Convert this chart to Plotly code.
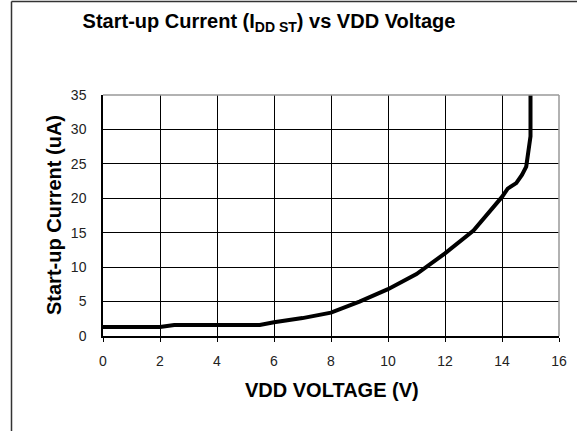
import plotly.graph_objects as go

vdd = [0, 1, 2, 2.5, 3, 4, 5, 5.5, 6, 7, 8, 9, 10, 11, 12, 13, 14, 14.2, 14.5, 14.7, 14.85, 14.95, 15.0, 15.0]
current = [1.3, 1.3, 1.3, 1.6, 1.6, 1.6, 1.6, 1.6, 2.0, 2.6, 3.4, 5.0, 6.8, 9.0, 12.0, 15.3, 20.2, 21.4, 22.2, 23.4, 24.6, 27.0, 29.0, 35.0]
x_ticks = [0, 2, 4, 6, 8, 10, 12, 14, 16]
y_ticks = [0, 5, 10, 15, 20, 25, 30, 35]

W, H = 577, 431
L, R, T, B = 103, 18, 95, 95
pw, ph = W - L - R, H - T - B

fig = go.Figure()
fig.add_trace(go.Scatter(x=vdd, y=current, mode="lines",
                         line=dict(color="black", width=4), showlegend=False,
                         hoverinfo="skip"))

font = "Liberation Sans, Arial, sans-serif"
fig.update_layout(
    width=W, height=H,
    margin=dict(l=L, r=R, t=T, b=B, autoexpand=False),
    paper_bgcolor="white", plot_bgcolor="white",
    font=dict(family=font, color="black", size=14),
    title=dict(text="<b>Start-up Current (I<sub>DD ST</sub>) vs VDD Voltage</b>",
               x=269 / W, xanchor="center", y=1 - 21 / H, yanchor="middle",
               font=dict(size=20, family=font, color="black")),
    xaxis=dict(range=[0, 16], tickvals=x_ticks, showgrid=True, gridcolor="black",
               gridwidth=1, showline=True, linecolor="black", linewidth=1.5,
               ticks="outside", ticklen=4, tickcolor="black", zeroline=False,
               tickfont=dict(size=14, color="#222222"), fixedrange=True, automargin=False,
               ticklabelstandoff=7),
    yaxis=dict(range=[0, 35], tickvals=y_ticks, showgrid=True, gridcolor="black",
               gridwidth=1, showline=True, linecolor="black", linewidth=1.5,
               ticks="", zeroline=False, ticklabelstandoff=12,
               tickfont=dict(size=14, color="#222222"), fixedrange=True, automargin=False),
)

# axis titles
fig.add_annotation(text="<b>VDD VOLTAGE (V)</b>", xref="paper", yref="paper",
                   x=(332 - L) / pw, y=-(390 - T - ph) / ph, xanchor="center", yanchor="middle",
                   showarrow=False, font=dict(size=20, family=font, color="black"))
fig.add_annotation(text="<b>Start-up Current (uA)</b>", xref="paper", yref="paper",
                   x=(54 - L) / pw, y=(T + ph - 215) / ph, xanchor="center", yanchor="middle",
                   textangle=-90, showarrow=False,
                   font=dict(size=20, family=font, color="black"))

# plot-area top/right border in gray
fig.add_shape(type="line", xref="paper", yref="paper", x0=0, x1=1, y0=1, y1=1,
              line=dict(color="#999999", width=1.5))
fig.add_shape(type="line", xref="paper", yref="paper", x0=1, x1=1, y0=0, y1=1,
              line=dict(color="#999999", width=1.5))

# outer frame (left and top edges)
fx = (11.5 - L) / pw
fy = (T + ph - 1.5) / ph
fybot = -(B) / ph - 0.01
fxr = (W - L) / pw + 0.01
fig.add_shape(type="line", xref="paper", yref="paper", x0=fx, x1=fx, y0=fybot, y1=fy,
              line=dict(color="#333333", width=1.5))
fig.add_shape(type="line", xref="paper", yref="paper", x0=fx, x1=fxr, y0=fy, y1=fy,
              line=dict(color="#333333", width=1.5))

fig.write_html("out.html", config={"displayModeBar": False},
               post_script="document.body.style.margin='0';document.body.style.overflow='hidden';")
